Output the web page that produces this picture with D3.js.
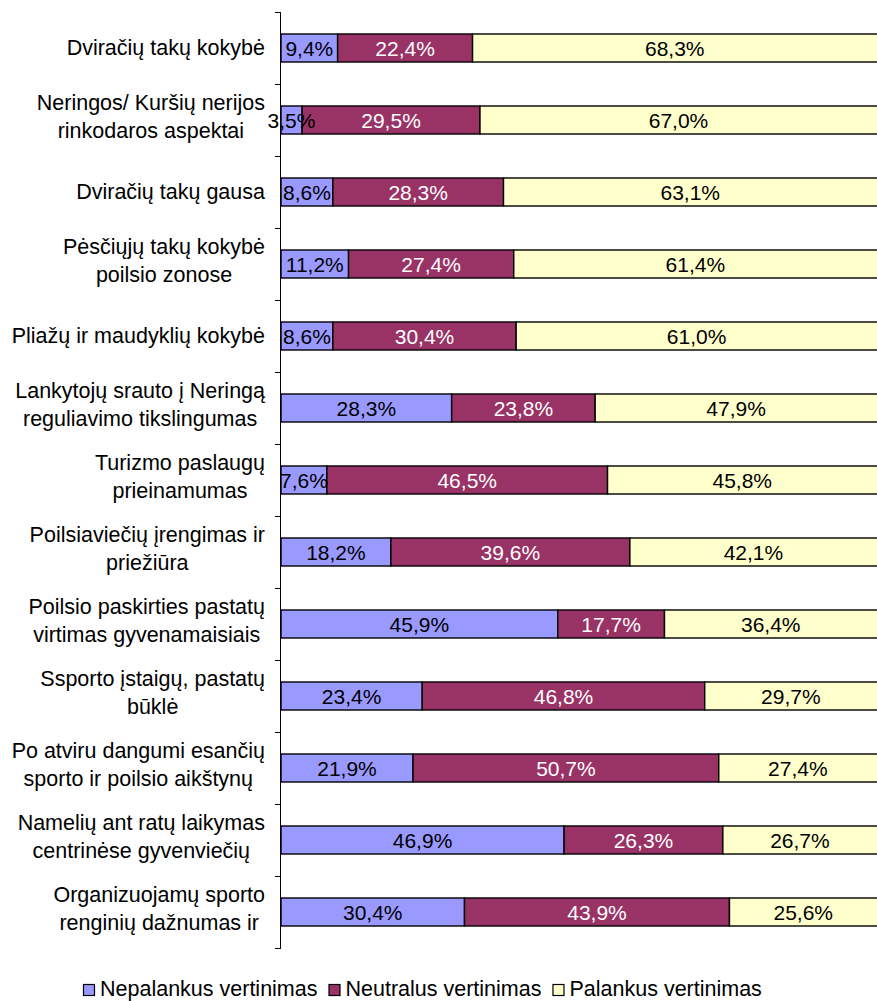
<!DOCTYPE html>
<html><head><meta charset="utf-8">
<script src="https://cdn.jsdelivr.net/npm/d3@7/dist/d3.min.js"></script>
<style>
html,body{margin:0;padding:0;background:#fff;}
svg{display:block;font-family:"Liberation Sans",Arial,sans-serif;}
</style></head>
<body>
<svg id="chart" width="877" height="1001"></svg>
<script>
const categories = [
  ["Dviračių takų kokybė"],
  ["Neringos/ Kuršių nerijos", "rinkodaros aspektai"],
  ["Dviračių takų gausa"],
  ["Pėsčiųjų takų kokybė", "poilsio zonose"],
  ["Pliažų ir maudyklių kokybė"],
  ["Lankytojų srauto į Neringą", "reguliavimo tikslingumas"],
  ["Turizmo paslaugų", "prieinamumas"],
  ["Poilsiaviečių įrengimas ir", "priežiūra"],
  ["Poilsio paskirties pastatų", "virtimas gyvenamaisiais"],
  ["Ssporto įstaigų, pastatų", "būklė"],
  ["Po atviru dangumi esančių", "sporto ir poilsio aikštynų"],
  ["Namelių ant ratų laikymas", "centrinėse gyvenviečių"],
  ["Organizuojamų sporto", "renginių dažnumas ir"]
];
const seriesNames = ["Nepalankus vertinimas", "Neutralus vertinimas", "Palankus vertinimas"];
const nepalankus = [9.4, 3.5, 8.6, 11.2, 8.6, 28.3, 7.6, 18.2, 45.9, 23.4, 21.9, 46.9, 30.4];
const neutralus  = [22.4, 29.5, 28.3, 27.4, 30.4, 23.8, 46.5, 39.6, 17.7, 46.8, 50.7, 26.3, 43.9];
const palankus   = [68.3, 67.0, 63.1, 61.4, 61.0, 47.9, 45.8, 42.1, 36.4, 29.7, 27.4, 26.7, 25.6];
const colors = ["#9999FF", "#993366", "#FFFFCC"];
const textColors = ["#000", "#fff", "#000"];

const svg = d3.select("#chart");
const keys = categories.map((c, i) => "c" + i);
const rows = keys.map((k, i) => ({key: k, v0: nepalankus[i], v1: neutralus[i], v2: palankus[i]}));
const stack = d3.stack().keys(["v0", "v1", "v2"]).offset(d3.stackOffsetExpand);
const stacked = stack(rows);

const x = d3.scaleLinear().domain([0, 1]).range([281, 884]);
const y = d3.scaleBand().domain(keys).range([12, 948]).paddingInner(44/72).paddingOuter(22/72);
const gap = (y.step() - y.bandwidth()) / 2;

// bars
stacked.forEach((s, si) => {
  const g = svg.append("g");
  g.selectAll("rect").data(s).enter().append("rect")
    .attr("x", d => x(d[0]))
    .attr("y", d => y(d.data.key))
    .attr("width", d => x(d[1]) - x(d[0]))
    .attr("height", y.bandwidth())
    .attr("fill", colors[si])
    .attr("stroke", "#000")
    .attr("stroke-width", 1.4);
});
// labels
const vals = [nepalankus, neutralus, palankus];
stacked.forEach((s, si) => {
  svg.append("g").selectAll("text").data(s).enter().append("text")
    .attr("x", d => (x(d[0]) + Math.min(x(d[1]), 877)) / 2)
    .attr("y", d => y(d.data.key) + y.bandwidth() / 2 + 7.5)
    .attr("text-anchor", "middle")
    .attr("font-size", 21)
    .attr("fill", textColors[si])
    .text((d, i) => vals[si][i].toFixed(1).replace(".", ",") + "%");
});

// axis line and ticks
svg.append("line").attr("x1", 280.5).attr("x2", 280.5)
  .attr("y1", y.range()[0]).attr("y2", y.range()[1]).attr("stroke", "#000").attr("stroke-width", 1);
const ticks = keys.map(k => y(k) - gap).concat([y(keys[keys.length - 1]) + y.bandwidth() + gap]);
svg.append("g").selectAll("line").data(ticks).enter().append("line")
  .attr("x1", 275).attr("x2", 281)
  .attr("y1", d => Math.round(d) + 0.5).attr("y2", d => Math.round(d) + 0.5)
  .attr("stroke", "#000").attr("stroke-width", 1);

// category labels
const lab = svg.append("g").attr("font-size", 21.5).attr("fill", "#000");
categories.forEach((lines, i) => {
  const cy = y(keys[i]) + y.bandwidth() / 2;
  const t = lab.append("text").attr("text-anchor", "middle");
  const spans = lines.map((ln, li) =>
    t.append("tspan").attr("x", 0).attr("y", lines.length === 1 ? cy + 7 : cy - 10 + li * 28).text(ln));
  const w = d3.max(spans, sp => sp.node().getComputedTextLength());
  spans.forEach(sp => sp.attr("x", 265 - w / 2));
});

// legend
const leg = svg.append("g").attr("font-size", 21.5);
let lx = 0;
seriesNames.forEach((n, i) => {
  leg.append("rect").attr("x", lx + 0.5).attr("y", 984.5).attr("width", 11).attr("height", 11)
    .attr("fill", colors[i]).attr("stroke", "#000").attr("stroke-width", 1.2);
  const t = leg.append("text").attr("x", lx + 17).attr("y", 996).text(n);
  lx += 17 + t.node().getComputedTextLength() + 11;
});
const legW = lx - 11;
leg.attr("transform", `translate(${Math.round(422 - legW / 2)},0)`);
</script>
</body></html>
